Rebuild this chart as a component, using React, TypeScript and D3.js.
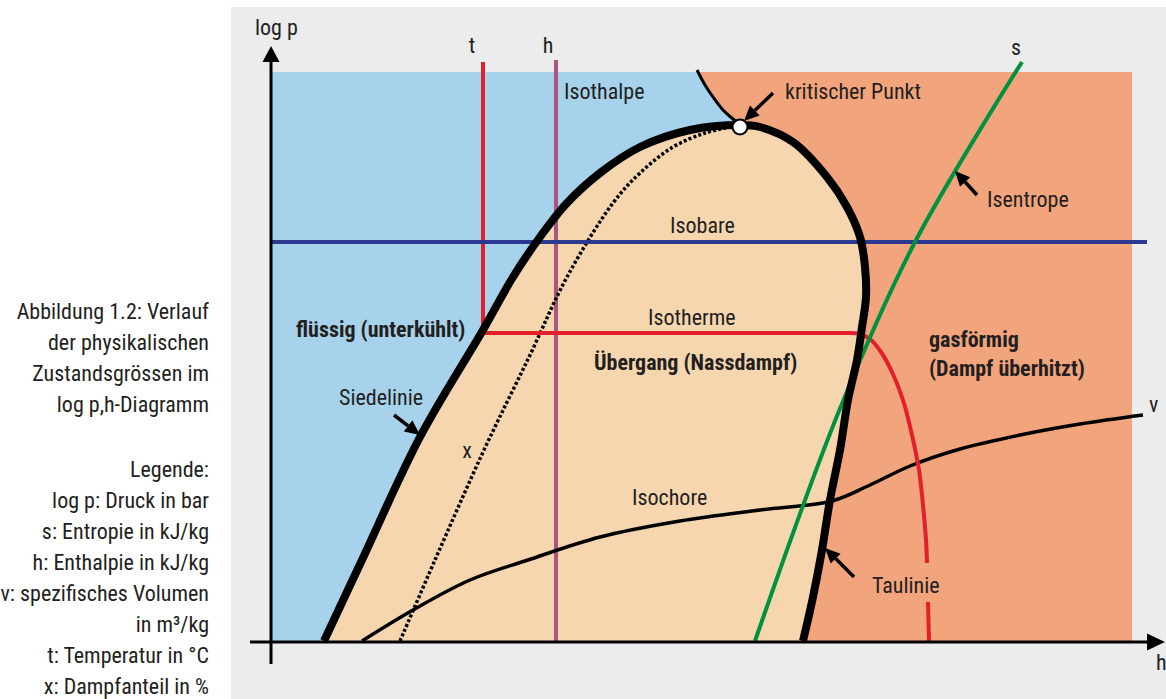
import React from "react";
import * as d3 from "d3";

// ---- data (h units right of the p-axis, log p units above the h-axis) ----
type P = [number, number];

const siedelinie: P[] = [
  [52, 0], [90, 81], [148, 204], [211, 311], [241, 364],
  [268, 404], [295, 438], [328, 468], [368, 494], [418, 511], [468, 516],
];
const taulinie: P[] = [
  [468, 516], [488, 514], [521, 499], [555, 464], [575, 434], [588, 404], [593, 374],
  [594, 344], [590, 314], [585, 281], [576, 241], [568, 191], [558, 141], [550, 91],
  [541, 44], [531, 0],
];
const criticalBranch: P[] = [
  [425, 571], [433, 556], [441, 544], [451, 531], [461, 522], [468, 516],
];
const qualityX: P[] = [
  [128, 0], [163, 81], [212, 191], [258, 286], [295, 364], [341, 438], [368, 468],
  [401, 494], [433, 508], [458, 514],
];
const isobare: P[] = [[0, 399], [875, 399]];
const isenthalpe: P[] = [[284, 0], [284, 581]];
const isothermLiquid: P[] = [[211, 579], [211, 308], [578, 308]];
const isothermVapour: (P | null)[] = [
  [578, 308], [588, 307], [598, 302], [609, 289], [620, 269], [631, 241], [640, 206],
  [647, 171], [651, 136], [654, 101], [655, 78], null, [656, 39], [657, 0],
];
const isentrope: P[] = [
  [483, 0], [567, 230], [643, 399], [750, 579],
];
const isochore: P[] = [
  [90, 0], [141, 31], [198, 61], [256, 81], [328, 104], [408, 120], [488, 131],
  [560, 140], [598, 156], [638, 175], [688, 192], [748, 206], [808, 217], [871, 226],
];
const criticalPoint: P = [468, 514];

const arrows: { from: P; to: P }[] = [
  { from: [501, 548], to: [472, 520] },
  { from: [122, 226], to: [148, 206] },
  { from: [705, 446], to: [683, 470] },
  { from: [582, 64], to: [553, 93] },
];

const labels: { text: string; h: number; p: number; bold?: boolean; anchor?: string }[] = [
  { text: "log p", h: -17, p: 606 },
  { text: "t", h: 200, p: 588, anchor: "middle" },
  { text: "h", h: 276, p: 588, anchor: "middle" },
  { text: "s", h: 744, p: 586, anchor: "middle" },
  { text: "Isothalpe", h: 292, p: 542 },
  { text: "kritischer Punkt", h: 513, p: 542 },
  { text: "Isentrope", h: 715, p: 434 },
  { text: "Isobare", h: 398, p: 408 },
  { text: "Isotherme", h: 376, p: 316 },
  { text: "flüssig (unterkühlt)", h: 24, p: 304, bold: true },
  { text: "Übergang (Nassdampf)", h: 322, p: 271, bold: true },
  { text: "gasförmig", h: 657, p: 294, bold: true },
  { text: "(Dampf überhitzt)", h: 657, p: 265, bold: true },
  { text: "Siedelinie", h: 67, p: 236 },
  { text: "x", h: 195, p: 183, anchor: "middle" },
  { text: "Isochore", h: 360, p: 136 },
  { text: "v", h: 877, p: 229 },
  { text: "Taulinie", h: 600, p: 48 },
  { text: "h", h: 884, p: -29 },
];

const captionLines = [
  "Abbildung 1.2: Verlauf",
  "der physikalischen",
  "Zustandsgrössen im",
  "log p,h-Diagramm",
];
const legendLines = [
  "Legende:",
  "log p: Druck in bar",
  "s: Entropie in kJ/kg",
  "h: Enthalpie in kJ/kg",
  "v: spezifisches Volumen",
  "in m³/kg",
  "t: Temperatur in  °C",
  "x: Dampfanteil in %",
];

// ---- layout ----
const W = 1166;
const H = 699;
const FONT = "'Liberation Sans Narrow', 'Arial Narrow', 'Roboto Condensed', Roboto, sans-serif";
const TXT = "#231f20";

const x = d3.scaleLinear().domain([0, 860]).range([272, 1132]);
const y = d3.scaleLinear().domain([0, 569]).range([641, 72]);

const lineGen = d3
  .line<P>()
  .x((d) => x(d[0]))
  .y((d) => y(d[1]));
const smooth = d3
  .line<P>()
  .x((d) => x(d[0]))
  .y((d) => y(d[1]))
  .curve(d3.curveCatmullRom.alpha(0.5));
const smoothGap = d3
  .line<P | null>()
  .defined((d) => d !== null)
  .x((d) => x((d as P)[0]))
  .y((d) => y((d as P)[1]))
  .curve(d3.curveCatmullRom.alpha(0.5));

const cont = (d: string | null) => (d || "").replace(/^M/, "L");

function Arrow({ from, to }: { from: P; to: P }) {
  const x1 = x(from[0]), y1 = y(from[1]), x2 = x(to[0]), y2 = y(to[1]);
  const ang = Math.atan2(y2 - y1, x2 - x1);
  const len = 15, half = 7;
  const bx = x2 - len * Math.cos(ang), by = y2 - len * Math.sin(ang);
  const px = -Math.sin(ang) * half, py = Math.cos(ang) * half;
  return (
    <g>
      <line x1={x1} y1={y1} x2={bx} y2={by} stroke="#000" strokeWidth={3.5} />
      <path d={`M${x2},${y2}L${bx + px},${by + py}L${bx - px},${by - py}Z`} fill="#000" />
    </g>
  );
}

export default function App() {
  const dome = [...siedelinie, ...taulinie.slice(1)];
  const bluePath =
    lineGen([[0, 0], [0, 569], [426, 569]] as P[]) +
    cont(smooth(criticalBranch)) +
    cont(smooth([...siedelinie].reverse())) +
    "Z";
  return (
    <svg
      width={W}
      height={H}
      style={{ position: "absolute", left: 0, top: 0, background: "#fff" }}
      fontFamily={FONT}
    >
      <rect x={231} y={7} width={W - 231} height={H - 7} fill="#ebeceb" />
      {/* regions */}
      <rect x={x(0)} y={y(569)} width={x(860) - x(0)} height={y(0) - y(569)} fill="#f2a47c" />
      <path d={bluePath} fill="#a6d2ec" />
      <path d={smooth(dome) + "Z"} fill="#f6d6af" />

      {/* lines */}
      <path d={lineGen(isenthalpe)!} stroke="#a9577e" strokeWidth={4} fill="none" />
      <path d={smooth(qualityX)!} stroke="#000" strokeWidth={3.5} strokeDasharray="3,2.2" fill="none" />
      <path d={smooth(isochore)!} stroke="#000" strokeWidth={3.5} fill="none" />
      <path d={lineGen(isothermLiquid)!} stroke="#e3202a" strokeWidth={4} fill="none" />
      <path d={smoothGap(isothermVapour)!} stroke="#e3202a" strokeWidth={4} fill="none" />
      <path d={lineGen(isobare)!} stroke="#2b3990" strokeWidth={4} fill="none" />
      <path d={smooth(isentrope)!} stroke="#00923f" strokeWidth={4} fill="none" />
      <path d={smooth(criticalBranch)!} stroke="#000" strokeWidth={3} fill="none" />
      <path d={smooth(dome)!} stroke="#000" strokeWidth={8} fill="none" strokeLinejoin="round" />

      <circle cx={x(criticalPoint[0])} cy={y(criticalPoint[1])} r={7.5} fill="#fff" stroke="#000" strokeWidth={2} />

      {arrows.map((a, i) => (
        <Arrow key={i} from={a.from} to={a.to} />
      ))}

      {/* axes */}
      <line x1={x(-1)} y1={y(-23)} x2={x(-1)} y2={y(569) - 12} stroke="#000" strokeWidth={3} />
      <path d={`M${x(-1)},${y(595)}L${x(-1) - 8.5},${y(579)}L${x(-1) + 8.5},${y(579)}Z`} fill="#000" />
      <line x1={x(-22)} y1={y(-1)} x2={x(876)} y2={y(-1)} stroke="#000" strokeWidth={3} />
      <path d={`M${x(893)},${y(-1)}L${x(875)},${y(-1) - 8.5}L${x(875)},${y(-1) + 8.5}Z`} fill="#000" />

      {labels.map((l, i) => (
        <text
          key={i}
          x={x(l.h)}
          y={y(l.p)}
          fontSize={22}
          fontWeight={l.bold ? "bold" : "normal"}
          textAnchor={l.anchor || "start"}
          fill={TXT}
        >
          {l.text}
        </text>
      ))}

      {captionLines.map((t, i) => (
        <text key={"c" + i} x={209} y={319 + i * 31} fontSize={22} textAnchor="end" fill={TXT}>
          {t}
        </text>
      ))}
      {legendLines.map((t, i) => (
        <text key={"l" + i} x={209} y={477 + i * 31} fontSize={22} textAnchor="end" fill={TXT}>
          {t}
        </text>
      ))}
    </svg>
  );
}
